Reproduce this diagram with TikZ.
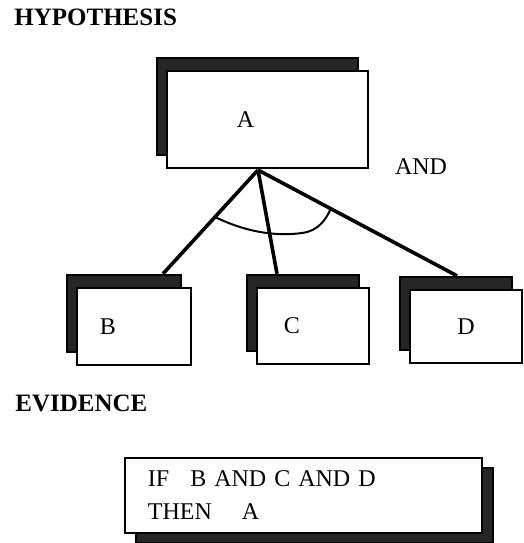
\documentclass[tikz,border=0pt]{standalone}
\usepackage{fontspec}
\setmainfont{Liberation Serif}
\usetikzlibrary{shadows}

\tikzset{
  box/.style = {draw, line width = 1.2pt, fill = white, font = \fontsize{12}{14}\selectfont},
  card/.style = {box, general shadow = {shadow xshift = -5pt, shadow yshift = 6.5pt, fill = black!85, draw = black}},
  rulecard/.style = {box, general shadow = {shadow xshift = 5.5pt, shadow yshift = -5pt, fill = black!85, draw = black}},
  heading/.style = {font = \fontsize{12.5}{15}\selectfont\bfseries, inner sep = 0pt},
  link/.style = {line width = 1.8pt}
}

\begin{document}
\begin{tikzpicture}[x = 0.5pt, y = -0.5pt]
    \useasboundingbox (0, 0) rectangle (524, 543);

    \node [heading, anchor = west] (hyp) at (14, 17) {HYPOTHESIS};
    \node [heading, anchor = west] (evid) at (15, 403) {EVIDENCE};
    \node [font = \fontsize{12}{14}\selectfont, inner sep = 0pt] (and) at (421, 167) {AND};

    \node [card, minimum width = 100.5pt, minimum height = 48.5pt] (A) at (267.5, 119.5) {A\hspace{22pt}\mbox{}};
    \node [card, minimum width = 57pt, minimum height = 38.5pt] (B) at (134, 326.5) {B\hspace{26pt}\mbox{}};
    \node [card, minimum width = 56pt, minimum height = 38pt] (C) at (313, 326) {C\hspace{21pt}\mbox{}};
    \node [card, minimum width = 56pt, minimum height = 36.5pt] (D) at (466, 326.5) {D};

    \coordinate (apex) at (258, 170);

    \draw [link] (apex) -- ([xshift = 14.5pt, yshift = 6.5pt]B.north);
    \draw [link] (apex) -- ([xshift = -18pt, yshift = 6.5pt]C.north);
    \draw [link] (apex) -- ([xshift = -4.5pt, yshift = 6.5pt]D.north);

    \draw [line width = 1pt] (215, 217) .. controls (250, 234) and (280, 236) .. (302, 233)
      .. controls (318, 231) and (326, 220) .. (331, 208);

    \node [rulecard, minimum width = 178.5pt, minimum height = 37.5pt, text width = 155.5pt,
      inner xsep = 11.5pt, align = left, font = \fontsize{12}{16.5}\selectfont] (rule) at (303.5, 495.5)
      {IF\hspace{10.5pt}B AND C AND D\\THEN\hspace{15pt}A};
  \end{tikzpicture}
\end{document}
